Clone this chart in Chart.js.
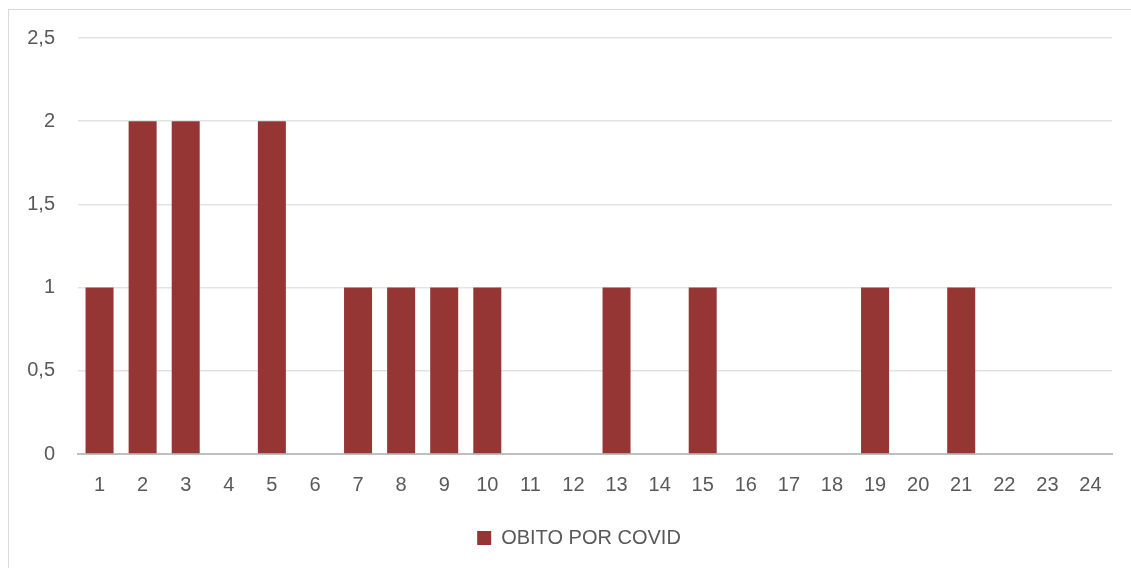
<!DOCTYPE html>
<html><head><meta charset="utf-8">
<script src="https://cdn.jsdelivr.net/npm/chart.js@4"></script>
<style>
html,body{margin:0;padding:0;background:#fff;}
#wrap{position:relative;width:1131px;height:568px;}
#frame{position:absolute;left:8px;top:9px;width:1140px;height:600px;border:1px solid #d9d9d9;box-sizing:border-box;}
canvas{position:absolute;left:0;top:0;}
</style></head>
<body>
<div id="wrap"><div id="frame"></div><canvas id="c" width="1131" height="568"></canvas></div>
<script>
const categories = ["1","2","3","4","5","6","7","8","9","10","11","12","13","14","15","16","17","18","19","20","21","22","23","24"];
const seriesName = "OBITO POR COVID";
const values = [1,2,2,0,2,0,1,1,1,1,0,0,1,0,1,0,0,0,1,0,1,0,0,0];
const yTicks = [0,0.5,1,1.5,2,2.5];

const font = {family:"'Liberation Sans', Arial, sans-serif", size:20};
const shiftLegend = {
  id:'shiftLegend',
  afterLayout(chart){ const l = chart.legend; if(l){ l.left += 23; l.right += 23; } }
};
new Chart(document.getElementById('c'), {
  type:'bar',
  data:{labels:categories, datasets:[{label:seriesName, data:values, backgroundColor:'#963634', borderWidth:0, barPercentage:0.65, categoryPercentage:1}]},
  options:{
    responsive:false, animation:false, devicePixelRatio:1,
    layout:{padding:{left:0,right:19,top:38,bottom:10}},
    plugins:{
      legend:{position:'bottom', labels:{color:'#595959', font:font, boxWidth:14, boxHeight:14, padding:10}},
      tooltip:{enabled:false}
    },
    scales:{
      x:{
        grid:{display:false, drawTicks:false},
        border:{display:true, color:'#bfbfbf', width:2},
        ticks:{color:'#595959', font:font, padding:19, maxRotation:0, autoSkip:false},
        afterFit:(s)=>{s.height=64;}
      },
      y:{
        min:0, max:2.5,
        afterBuildTicks:(s)=>{s.ticks=yTicks.map(v=>({value:v}));},
        grid:{color:'#e3e3e3', lineWidth:1.5, drawTicks:false},
        border:{display:false},
        ticks:{color:'#595959', font:font, padding:23, callback:(v)=>String(v).replace('.',',')},
        afterFit:(s)=>{s.width=78;}
      }
    }
  },
  plugins:[shiftLegend]
});
</script>
</body></html>
